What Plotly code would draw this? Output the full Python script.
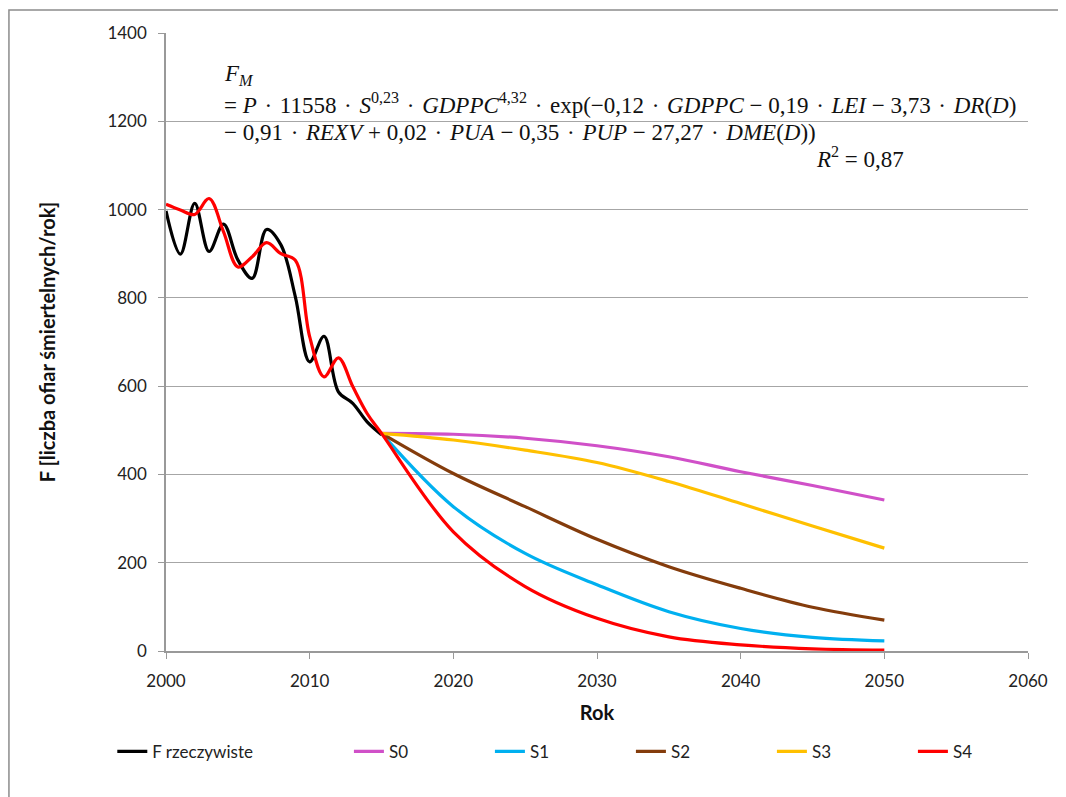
import plotly.graph_objects as go

# data
years_hist = [2000, 2001, 2002, 2003, 2004, 2005, 2006, 2007,
              2008, 2009, 2010, 2011, 2012, 2013, 2014, 2015]
f_real = [997, 899, 1014, 905, 967, 886, 844, 955,
          920, 803, 655, 713, 587, 561, 519, 490]
f_model = [1012, 999, 989, 1025, 950, 870, 893, 925,
           900, 885, 712, 621, 664, 599, 538, 493]

years_scen = [2015, 2020, 2025, 2030, 2035, 2040, 2045, 2050]
s0 = [493, 491, 482, 465, 440, 406, 375, 342]
s1 = [493, 327, 221, 150, 89, 51, 31, 23]
s2 = [493, 402, 327, 253, 191, 142, 99, 70]
s3 = [493, 478, 455, 427, 384, 334, 283, 233]
s4 = [493, 270, 146, 74, 32, 14, 5, 2]

FONT = "Lato"
MATH = "Liberation Serif"

fig = go.Figure()

fig.add_trace(go.Scatter(x=years_hist, y=f_real, name="F rzeczywiste", mode="lines", legend="legend",
                         line=dict(color="#000000", width=3.2, shape="spline", smoothing=1)))
scen = [("S0", s0, "#D050C8"), ("S1", s1, "#00B0F0"), ("S2", s2, "#843C0C"), ("S3", s3, "#FFC000")]
for name, vals, col in scen:
    fig.add_trace(go.Scatter(x=years_scen, y=vals, name=name, mode="lines", legend="legend2",
                             line=dict(color=col, width=3.2, shape="spline", smoothing=1)))
# red: model fit up to 2015, then scenario S4
fig.add_trace(go.Scatter(x=years_hist + years_scen[1:], y=f_model + s4[1:], name="S4", mode="lines",
                         legend="legend2",
                         line=dict(color="#FF0000", width=3.2, shape="spline", smoothing=1)))

leg_font = dict(family=FONT, size=17, color="#222222")
fig.update_layout(
    width=1058, height=789,
    margin=dict(l=158, r=33, t=25, b=146),
    paper_bgcolor="white", plot_bgcolor="white",
    font=dict(family=FONT, size=17, color="#222222"),
    showlegend=True,
    legend=dict(orientation="h", x=-0.0623, xanchor="left", y=-0.163, yanchor="middle",
                font=leg_font, bgcolor="rgba(0,0,0,0)"),
    legend2=dict(orientation="h", x=0.2122, xanchor="left", y=-0.163, yanchor="middle",
                 font=leg_font, entrywidth=96, traceorder="normal", bgcolor="rgba(0,0,0,0)"),
    xaxis=dict(range=[2000, 2060], dtick=10, tick0=2000, showgrid=False,
               showline=True, linecolor="#999999", linewidth=1.5,
               ticks="outside", ticklen=6, tickcolor="#999999", ticklabelstandoff=8,
               title=dict(text="<b>Rok</b>", font=dict(size=20, color="#111111"), standoff=16),
               zeroline=False),
    yaxis=dict(range=[0, 1400], dtick=200, showgrid=True, gridcolor="#A6A6A6", gridwidth=1.2,
               showline=True, linecolor="#999999", linewidth=1.5,
               ticks="outside", ticklen=6, tickcolor="#999999", ticklabelstandoff=8,
               title=dict(text="<b>F [liczba ofiar śmiertelnych/rok]</b>",
                          font=dict(size=20, color="#111111"), standoff=46),
               zeroline=False),
)

# outer frame of the chart (right and bottom edges fall outside the page)
fig.add_shape(type="rect", xref="paper", yref="paper",
              x0=-0.1822, x1=1.2, y0=-0.3, y1=1.0372,
              line=dict(color="#8C8C8C", width=1.5), layer="below")

H = "\u200a"
dot = f" {H}·{H} "
mfont = dict(family=MATH, size=23, color="#111111")
lines = [
    ("<i>F</i><sub><i>M</i></sub>", 0.0646, 0.932),
    (f"= <i>P</i>{dot}11558{dot}<i>S</i><sup>0,23</sup>{dot}<i>GDPPC</i><sup>4,32</sup>{dot}"
     f"exp(−0,12{dot}<i>GDPPC</i> − 0,19{dot}<i>LEI</i> − 3,73{dot}<i>DR</i>(<i>D</i>)", 0.0646, 0.886),
    (f"− 0,91{dot}<i>REXV</i> + 0,02{dot}<i>PUA</i> − 0,35{dot}<i>PUP</i> − 27,27{dot}"
     f"<i>DME</i>(<i>D</i>))", 0.0646, 0.839),
    ("<i>R</i><sup>2</sup> = 0,87", 0.752, 0.798),
]
for txt, xx, yy in lines:
    fig.add_annotation(text=txt, xref="paper", yref="paper", x=xx, y=yy,
                       xanchor="left", yanchor="middle", showarrow=False, font=mfont)

fig.write_html("out.html")
